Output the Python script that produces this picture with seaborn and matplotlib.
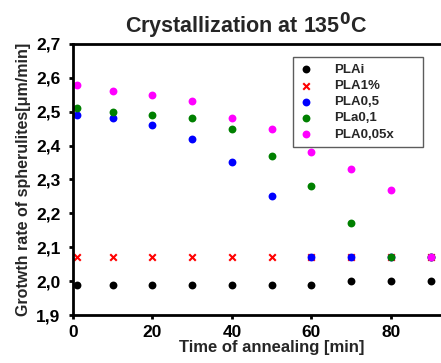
import matplotlib
matplotlib.use("Agg")
import matplotlib.pyplot as plt
import seaborn as sns
import pandas as pd
from matplotlib.ticker import FuncFormatter, MultipleLocator, FixedLocator

sns.set_theme(style="white")
plt.rcParams['font.family'] = ['Liberation Sans', 'DejaVu Sans']

time = [1, 10, 20, 30, 40, 50, 60, 70, 80, 90]
pla_i = [1.99, 1.99, 1.99, 1.99, 1.99, 1.99, 1.99, 2.00, 2.00, 2.00]
pla_1 = [2.07, 2.07, 2.07, 2.07, 2.07, 2.07, 2.07, 2.07, 2.07, 2.07]
pla_05 = [2.49, 2.48, 2.46, 2.42, 2.35, 2.25, 2.07, 2.07, 2.07, 2.07]
pla_01 = [2.51, 2.50, 2.49, 2.48, 2.45, 2.37, 2.28, 2.17, 2.07, 2.07]
pla_005x = [2.58, 2.56, 2.55, 2.53, 2.48, 2.45, 2.38, 2.33, 2.27, 2.07]
x_ticks = [0, 20, 40, 60, 80]

series = ["PLAi", "PLA1%", "PLA0,5", "PLa0,1", "PLA0,05x"]
values = [pla_i, pla_1, pla_05, pla_01, pla_005x]
colors = ["#000000", "#ff0000", "#0000ff", "#008000", "#ff00ff"]
markers = ["o", "x", "o", "o", "o"]

rows = []
for name, vals in zip(series, values):
    for t, v in zip(time, vals):
        rows.append({"time": t, "rate": v, "series": name})
df = pd.DataFrame(rows)

fig = plt.figure(figsize=(4.41, 3.63), dpi=100)
ax = fig.add_axes([0.1655, 0.1322, 0.901, 0.747])

for name, col, mk in zip(series, colors, markers):
    sub = df[df["series"] == name]
    if mk == "x":
        sns.scatterplot(data=sub, x="time", y="rate", ax=ax, color=col, marker="x",
                        s=22, linewidth=1.5, label=name)
    else:
        sns.scatterplot(data=sub, x="time", y="rate", ax=ax, color=col, marker="o",
                        s=32, linewidth=0, label=name)

ax.set_xlim(0, 100)
ax.set_ylim(1.9, 2.7)
ax.xaxis.set_major_locator(FixedLocator(x_ticks))
ax.yaxis.set_major_locator(MultipleLocator(0.1))
ax.yaxis.set_major_formatter(FuncFormatter(lambda v, p: f"{v:.1f}".replace(".", ",")))
ax.xaxis.set_major_formatter(FuncFormatter(lambda v, p: f"{v:.0f}"))

for s in ["left", "bottom", "top"]:
    ax.spines[s].set_visible(True)
    ax.spines[s].set_color("black")
    ax.spines[s].set_linewidth(2)
ax.spines["right"].set_visible(False)
ax.tick_params(axis="both", which="major", direction="out", length=3, width=2,
               labelsize=12.5, colors="black", bottom=True, left=True)
ax.tick_params(axis="x", pad=4)
ax.tick_params(axis="y", pad=6)
for lab in ax.get_xticklabels() + ax.get_yticklabels():
    lab.set_fontweight("bold")

ax.set_xlabel("Time of annealing [min]", fontsize=12, fontweight="bold", labelpad=0)
ax.set_ylabel("Grotwth rate of spherulites[\u03bcm/min]", fontsize=11.5, fontweight="bold", labelpad=4)
fig.text(0.558, 0.928, "Crystallization at 135$\\mathbf{^0}$C", ha="center", va="center",
         fontsize=15.5, fontweight="bold")

leg = ax.legend(loc="upper left", bbox_to_anchor=(293 / 441, 1 - 146 / 363, 130 / 441, 89 / 363),
                bbox_transform=fig.transFigure, mode="expand", frameon=True, fancybox=False,
                fontsize=9.5, handletextpad=1.6, borderpad=0.5, labelspacing=0.3,
                handlelength=1.0, borderaxespad=0)
leg.get_frame().set_edgecolor("#333333")
leg.get_frame().set_linewidth(1)
for t in leg.get_texts():
    t.set_fontweight("bold")

fig.savefig("out.png", dpi=100)
